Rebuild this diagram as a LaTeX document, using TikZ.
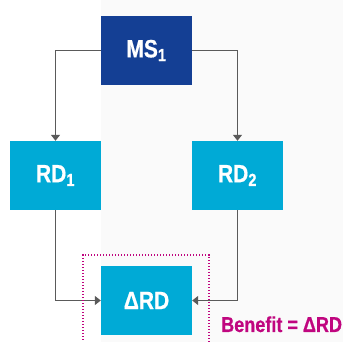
\documentclass[tikz,border=0pt]{standalone}
\usepackage{fontspec}
\setmainfont{Liberation Sans}
\newfontfamily\boxfont{Liberation Sans Bold}[FakeStretch=0.84, FakeBold=0.6]
\usepackage{xcolor}
\usepackage{tikz}
\usetikzlibrary{arrows.meta, positioning}

\definecolor{msblue}{HTML}{143F94}
\definecolor{rdblue}{HTML}{00AAD6}
\definecolor{linegray}{HTML}{5A5A5A}
\definecolor{benefit}{HTML}{C0067F}
\definecolor{paper}{HTML}{FAFAFA}

\tikzset{
    box/.style={minimum width=91pt, minimum height=69pt, inner sep=0pt,
        text=white, font=\fontsize{25}{25}\boxfont},
    link/.style={draw=linegray, line width=1.1pt,
        -{Triangle[length=6pt, width=9pt]}}
}

\begin{document}
\begin{tikzpicture}[x=1pt, y=1pt]
    \useasboundingbox (0,0) rectangle (343,342);
    \clip (0,0) rectangle (343,342);
    \fill[white] (0,0) rectangle (101,342);
    \fill[paper] (101,0) rectangle (343,342);

    \node[box, fill=msblue] (ms) at (146.5,291.5) {MS\textsubscript{1}};
    \node[box, fill=rdblue] (rd1) at (55.5,166.5) {RD\textsubscript{1}};
    \node[box, fill=rdblue] (rd2) at (237.5,166.5) {RD\textsubscript{2}};
    \node[box, fill=rdblue] (drd) at (146.5,41.5) {ΔRD};

    \draw[link] (ms.west) -| (rd1.north);
    \draw[link] (ms.east) -| (rd2.north);
    \draw[link] (rd1.south) |- (drd.west);
    \draw[link] (rd2.south) |- (drd.east);

    \draw[benefit, line width=1.3pt, dash pattern=on 1.3pt off 1.7pt]
        (83,-10) rectangle (209,87);
    \node[text=benefit, font=\fontsize{21.5}{21.5}\boxfont,
        anchor=base west, inner sep=0pt] (gain) at (221,10) {Benefit = ΔRD};
\end{tikzpicture}
\end{document}
